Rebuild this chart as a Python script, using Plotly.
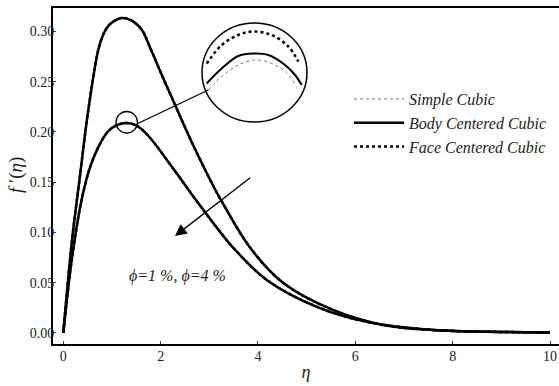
import plotly.graph_objects as go

# ---- data ----
eta_hi = [0, 0.173, 0.341, 0.514, 0.719, 0.82, 0.918, 1.0, 1.2, 1.4, 1.611, 1.8, 2.022, 2.295, 2.706, 3.117, 3.255, 3.836, 4.514, 5.541, 6.568, 7.595, 9.0, 10.0]
f_hi   = [0, 0.0896, 0.1557, 0.2221, 0.2819, 0.297, 0.3051, 0.309, 0.3134, 0.311, 0.3018, 0.2820, 0.2570, 0.2270, 0.1830, 0.1430, 0.1310, 0.0850, 0.0500, 0.0229, 0.0080, 0.0030, 0.0010, 0.0005]

eta_lo = [0, 0.173, 0.378, 0.55, 0.719, 0.918, 1.1, 1.303, 1.5, 1.74, 2.227, 2.706, 2.946, 3.255, 3.487, 4.179, 5.21, 6.24, 7.595, 9.0, 10.0]
f_lo   = [0, 0.0727, 0.1330, 0.1650, 0.1850, 0.2005, 0.2068, 0.2089, 0.2065, 0.1965, 0.1656, 0.1335, 0.1180, 0.0985, 0.0850, 0.0528, 0.026, 0.011, 0.0030, 0.0010, 0.0005]

# magnified inset (zoom of the peak of the lower curve)
in_eta_bcc = [1.027, 1.104, 1.209, 1.296, 1.383, 1.479, 1.537, 1.575]
in_bcc     = [0.2029, 0.2056, 0.2084, 0.2089, 0.2086, 0.2066, 0.2046, 0.2026]
in_eta_fcc = [1.027, 1.114, 1.209, 1.296, 1.402, 1.498, 1.556]
in_fcc     = [0.2069, 0.2106, 0.2126, 0.2133, 0.2126, 0.2103, 0.2073]
in_eta_sc  = [1.036, 1.114, 1.209, 1.306, 1.402, 1.479, 1.546]
in_sc      = [0.2016, 0.2043, 0.2066, 0.2076, 0.2069, 0.2053, 0.2023]

x_ticks = [0, 2, 4, 6, 8, 10]
y_ticks = [0.00, 0.05, 0.10, 0.15, 0.20, 0.25, 0.30]
y_ticktext = ["0.00", "0.05", "0.10", "0.15", "0.20", "0.25", "0.30"]

names = ["<i>Simple Cubic</i>", "<i>Body Centered Cubic</i>", "<i>Face Centered Cubic</i>"]
SERIF = "'Liberation Serif', 'Times New Roman', 'DejaVu Serif', serif"

sc_style = dict(color="#777777", width=1, dash="dot")
bcc_style = dict(color="black", width=2.5)
fcc_style = dict(color="black", width=2.5, dash="dot")

fig = go.Figure()

for i, (ex, fy) in enumerate([(eta_hi, f_hi), (eta_lo, f_lo)]):
    first = i == 0
    fig.add_trace(go.Scatter(x=ex, y=fy, mode="lines", name=names[0], legendrank=1,
                             line=dict(**sc_style, shape="spline", smoothing=1.0), showlegend=first))
    fig.add_trace(go.Scatter(x=ex, y=fy, mode="lines", name=names[2], legendrank=3,
                             line=dict(**fcc_style, shape="spline", smoothing=1.0), showlegend=first))
    fig.add_trace(go.Scatter(x=ex, y=fy, mode="lines", name=names[1], legendrank=2,
                             line=dict(**bcc_style, shape="spline", smoothing=1.0), showlegend=first))

# inset traces
fig.add_trace(go.Scatter(x=in_eta_fcc, y=in_fcc, mode="lines", xaxis="x2", yaxis="y2", showlegend=False,
                         line=dict(color="black", width=2.5, dash="dot", shape="spline")))
fig.add_trace(go.Scatter(x=in_eta_bcc, y=in_bcc, mode="lines", xaxis="x2", yaxis="y2", showlegend=False,
                         line=dict(color="black", width=2, shape="spline")))
fig.add_trace(go.Scatter(x=in_eta_sc, y=in_sc, mode="lines", xaxis="x2", yaxis="y2", showlegend=False,
                         line=dict(color="#777777", width=1, dash="dot", shape="spline")))

W, H = 559, 386
L, R, T, B = 53, 0, 8, 42
pw, ph = W - L - R, H - T - B

def px_x(p):
    return (p - L) / pw

def px_y(p):
    return (H - B - p) / ph

fig.update_layout(
    width=W, height=H,
    margin=dict(l=L, r=R, t=T, b=B, autoexpand=False),
    paper_bgcolor="white", plot_bgcolor="white",
    font=dict(family=SERIF, color="#222222", size=12),
    xaxis=dict(range=[-0.212, 10.185], tickvals=x_ticks, ticks="inside", ticklen=3,
               tickcolor="#444", showline=True, linecolor="black", linewidth=2, mirror=True,
               showgrid=False, zeroline=False, automargin=False, ticklabelstandoff=-2,
               tickfont=dict(size=14, family=SERIF),
               title=dict(text="<i>η</i>", font=dict(size=18, family=SERIF), standoff=3)),
    yaxis=dict(range=[-0.011, 0.3234], tickvals=y_ticks, ticktext=y_ticktext, ticks="inside", ticklen=3,
               tickcolor="#444", showline=True, linecolor="black", linewidth=2, mirror=False,
               showgrid=False, zeroline=False, automargin=False, ticklabelstandoff=-6,
               tickfont=dict(size=14, family=SERIF)),
    xaxis2=dict(domain=[px_x(202), px_x(306)], range=[1.0, 1.6], anchor="y2", visible=False),
    yaxis2=dict(domain=[px_y(123), px_y(23)], range=[0.195, 0.215], anchor="x2", visible=False),
    legend=dict(x=px_x(349), y=px_y(82), xanchor="left", yanchor="top",
                bgcolor="rgba(0,0,0,0)", font=dict(size=16, family=SERIF, color="#222"),
                itemwidth=50, tracegroupgap=0, traceorder="normal"),
    showlegend=True,
)

# y-axis title
fig.add_annotation(x=px_x(16), y=px_y(175), xref="paper", yref="paper", xanchor="center", yanchor="middle",
                   text="<i>f</i> ′(<i>η</i>)", textangle=-90, showarrow=False,
                   font=dict(size=19, family=SERIF, color="#222"))

# big inset circle
fig.add_shape(type="circle", xref="paper", yref="paper",
              x0=px_x(202), x1=px_x(307), y0=px_y(122), y1=px_y(23),
              line=dict(color="black", width=1.5), layer="above")
# small circle around the peak
fig.add_shape(type="circle", xref="x", yref="y", x0=1.083, x1=1.523, y0=0.1990, y1=0.2204,
              line=dict(color="black", width=1.3))
# connector
fig.add_shape(type="line", xref="x", yref="y", x0=1.52, y0=0.2082, x1=2.979, y1=0.2418,
              line=dict(color="black", width=1.3))

# arrow
fig.add_annotation(x=2.294, y=0.0965, ax=3.871, ay=0.1555, xref="x", yref="y", axref="x", ayref="y",
                   text="", showarrow=True, arrowhead=2, arrowsize=1.8, arrowwidth=1.3, arrowcolor="black")
fig.add_annotation(x=2.34, y=0.0567, xref="x", yref="y", showarrow=False,
                   text="<i>ϕ=1 %, ϕ=4 %</i>", font=dict(size=16, family=SERIF, color="#222"))

fig.write_html("out.html", config={"displayModeBar": False},
               post_script="document.body.style.margin='0px'; document.body.style.overflow='hidden';")
